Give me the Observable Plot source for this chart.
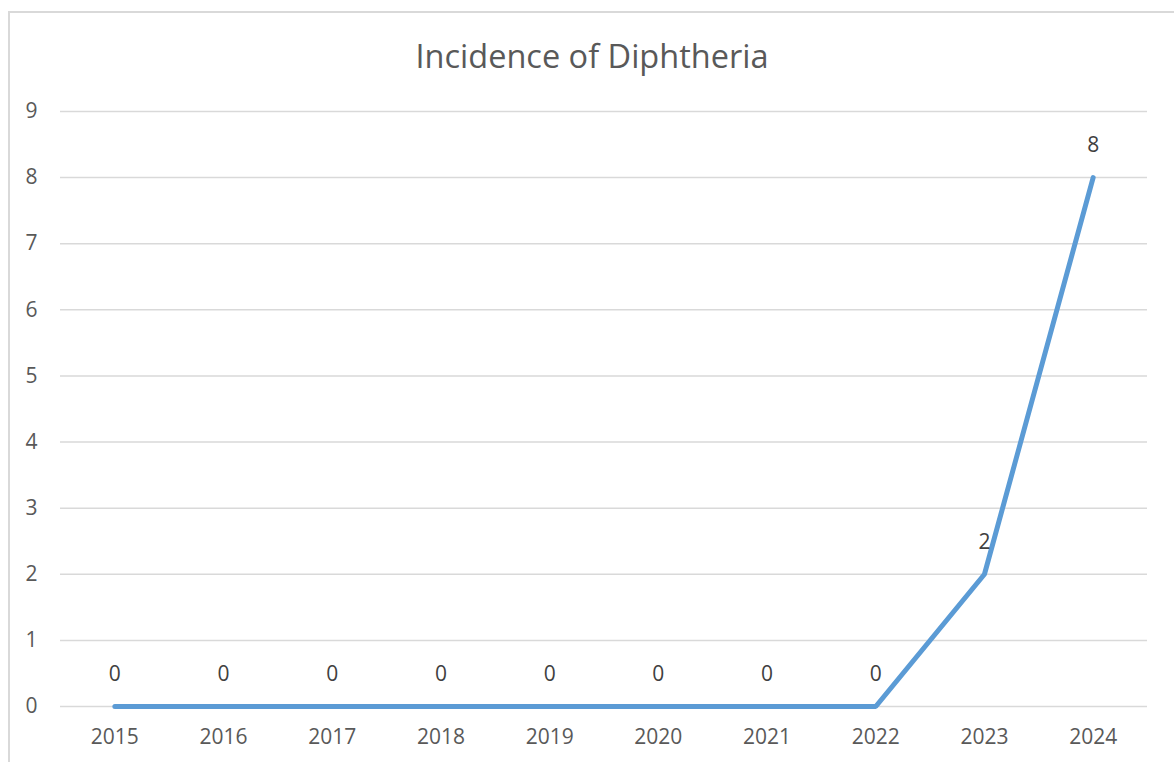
<!DOCTYPE html>
<html>
<head>
<meta charset="utf-8">
<script src="https://cdn.jsdelivr.net/npm/d3@7"></script>
<script src="https://cdn.jsdelivr.net/npm/@observablehq/plot@0.6"></script>
<style>
  html, body { margin: 0; padding: 0; background: #fff; overflow: hidden; }
  body { width: 1174px; height: 762px; position: relative; font-family: "Open Sans", sans-serif; }
  #frame {
    position: absolute; left: 8px; top: 11px; width: 1400px; height: 1000px;
    border: 2px solid #d9d9d9; box-sizing: border-box;
  }
  #title {
    position: absolute; left: 0; top: 0; width: 1184px; height: 80px;
    text-align: center; color: #595959; font-size: 32.5px; line-height: 80px;
    padding-top: 16px; box-sizing: border-box; white-space: nowrap;
  }
  #chart { position: absolute; left: 0; top: 80px; }
</style>
</head>
<body>
<div id="frame"></div>
<div id="title">Incidence of Diphtheria</div>
<div id="chart"></div>
<script>
// Annual diphtheria cases
const years = ["2015", "2016", "2017", "2018", "2019", "2020", "2021", "2022", "2023", "2024"];
const cases = [0, 0, 0, 0, 0, 0, 0, 0, 2, 8];
const yTicks = [0, 1, 2, 3, 4, 5, 6, 7, 8, 9];

const data = years.map((year, i) => ({year, cases: cases[i]}));

const chart = Plot.plot({
  width: 1174,
  height: 682,
  marginLeft: 60,
  marginRight: 27,
  marginTop: 31,
  marginBottom: 56,
  style: {fontFamily: "'Open Sans', sans-serif", fontSize: "21px", color: "#595959", background: "transparent"},
  x: {type: "point", domain: years, padding: 0.5, round: false, label: null},
  y: {domain: [0, 9], ticks: yTicks, tickFormat: "d", label: null},
  marks: [
    Plot.gridY(yTicks, {stroke: "#d9d9d9", strokeOpacity: 1, strokeWidth: 1.5}),
    Plot.axisY(yTicks, {tickSize: 0, tickPadding: 23, tickFormat: "d", fill: "#595959", fontSize: 21, label: null}),
    Plot.axisX({tickSize: 0, tickPadding: 23, fill: "#595959", fontSize: 21, label: null}),
    Plot.line(data, {x: "year", y: "cases", stroke: "#5b9bd5", strokeWidth: 5, strokeLinecap: "round", strokeLinejoin: "miter"}),
    Plot.text(data, {x: "year", y: "cases", text: d => String(d.cases), dy: -32, fill: "#404040", fontSize: 21})
  ]
});
document.getElementById("chart").appendChild(chart);
</script>
</body>
</html>
